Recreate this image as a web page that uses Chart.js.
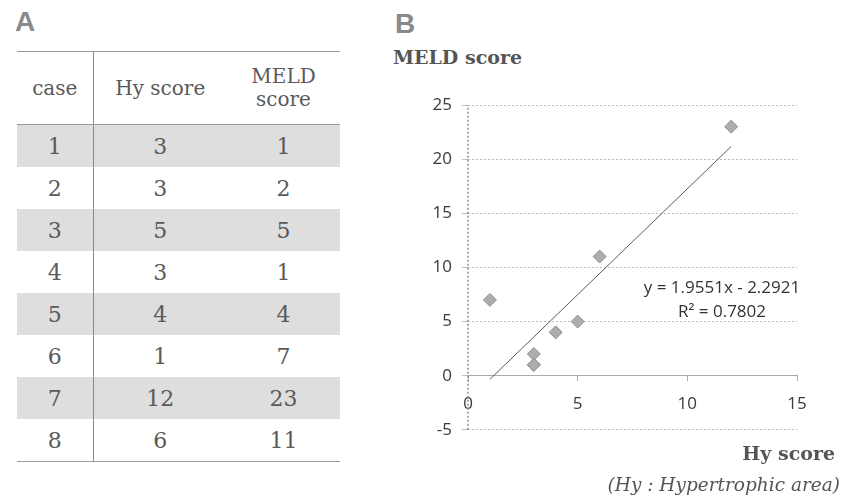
<!DOCTYPE html>
<html>
<head>
<meta charset="utf-8">
<script src="https://cdn.jsdelivr.net/npm/chart.js@4"></script>
<style>
  body { margin: 0; background: #fff; }
  #page { position: relative; width: 852px; height: 498px; overflow: hidden; }
  .panel { position: absolute; font-family: "Liberation Sans", sans-serif; font-weight: bold; font-size: 28px; color: #8a8a8a; }
  #tbl { position: absolute; left: 17px; top: 51px; width: 323px; border-collapse: collapse;
         font-family: "DejaVu Serif", serif; color: #5a5a5a; table-layout: fixed; }
  #tbl th { font-weight: normal; font-size: 20px; height: 72px; line-height: 23px;
            border-top: 1px solid #9a9a9a; border-bottom: 1px solid #9a9a9a; padding: 0; }
  #tbl td { font-size: 22px; height: 42px; padding: 0; text-align: center; }
  #tbl tr:last-child td { border-bottom: 1px solid #9a9a9a; }
  #tbl .c0 { border-right: 1px solid #8a8a8a; }
  #tbl tr.shade td { background: #dedede; }
  .lbl { position: absolute; font-family: "DejaVu Serif", serif; color: #555; white-space: nowrap; }
  .eq { position: absolute; font-family: "Open Sans", sans-serif; font-size: 17px; color: #333;
        width: 240px; text-align: center; white-space: nowrap; }
  #wrap { position: absolute; left: 400px; top: 80px; width: 420px; height: 370px; }
</style>
</head>
<body>
<div id="page">
  <div class="panel" style="left:15px; top:6px;">A</div>
  <table id="tbl">
    <colgroup><col style="width:76px"><col style="width:134px"><col style="width:113px"></colgroup>
    <thead>
      <tr><th class="c0">case</th><th>Hy score</th><th>MELD<br>score</th></tr>
    </thead>
    <tbody id="rows"></tbody>
  </table>

  <div class="panel" style="left:395px; top:8px;">B</div>
  <div class="lbl" style="left:393px; top:46px; font-size:19px; font-weight:bold;">MELD score</div>

  <div id="wrap"><canvas id="scatterChart"></canvas></div>

  <div class="eq" style="left:602px; top:275px;">y = 1.9551x - 2.2921</div>
  <div class="eq" style="left:602px; top:299px;">R² = 0.7802</div>

  <div class="lbl" style="right:17px; top:442px; font-size:19px; font-weight:bold;">Hy score</div>
  <div class="lbl" style="right:12px; top:474px; font-size:18.5px; font-style:italic;">(Hy : Hypertrophic area)</div>
</div>

<script>
// data
const cases = [1, 2, 3, 4, 5, 6, 7, 8];
const hyScore = [3, 3, 5, 3, 4, 1, 12, 6];
const meldScore = [1, 2, 5, 1, 4, 7, 23, 11];

// trendline (from the equation on the chart)
const slope = 1.9551;
const intercept = -2.2921;
const trendX = [1, 12];

// axis ranges
const xMin = 0, xMax = 15;
const yMin = -5, yMax = 25;

/*********TABLE************/
const rowsEl = document.getElementById("rows");
cases.forEach((c, i) => {
  const tr = document.createElement("tr");
  if (i % 2 === 0) tr.className = "shade";
  tr.innerHTML =
    '<td class="c0">' + c + "</td><td>" + hyScore[i] + "</td><td>" + meldScore[i] + "</td>";
  rowsEl.appendChild(tr);
});

/*********SCATTER CHART************/
const points = hyScore.map((x, i) => ({ x: x, y: meldScore[i] }));
const trend = trendX.map((x) => ({ x: x, y: slope * x + intercept }));

const ctx = document.getElementById("scatterChart");

new Chart(ctx, {
  type: "scatter",
  data: {
    datasets: [
      {
        // vertical axis line at x = 0 across the whole y range
        type: "line",
        data: [{ x: xMin, y: yMin }, { x: xMin, y: yMax }],
        borderColor: "#8a8a8a",
        borderWidth: 1.5,
        borderDash: [2, 2],
        pointRadius: 0,
        fill: false,
        clip: false,
      },
      {
        data: points,
        pointStyle: "rectRot",
        pointRadius: 6.5,
        backgroundColor: "#adadad",
        borderColor: "#8f8f8f",
        borderWidth: 1,
      },
      {
        type: "line",
        data: trend,
        borderColor: "#5a5a5a",
        borderWidth: 1,
        pointRadius: 0,
        fill: false,
      },
    ],
  },
  options: {
    responsive: true,
    maintainAspectRatio: false,
    animation: false,
    layout: { padding: { top: 25, bottom: 20, left: 0, right: 23 } },
    scales: {
      x: {
        type: "linear",
        position: { y: 0 },
        min: xMin,
        max: xMax,
        ticks: {
          stepSize: 5,
          color: "#3a3a3a",
          padding: 13,
          font: { size: 17, family: "Open Sans, sans-serif" },
        },
        grid: { drawOnChartArea: false, color: "#aaa", tickLength: 5 },
        border: { color: "#aaa" },
      },
      y: {
        min: yMin,
        max: yMax,
        afterFit: (scale) => {
          scale.width = 68; // fixed room for the labels
        },
        ticks: {
          stepSize: 5,
          color: "#3a3a3a",
          padding: 10,
          font: { size: 17, family: "Open Sans, sans-serif" },
        },
        grid: { color: "#bdbdbd", tickLength: 6 },
        border: { display: false, dash: [2, 2] },
      },
    },
    plugins: {
      legend: { display: false },
      tooltip: { enabled: false },
    },
  },
});
</script>
</body>
</html>
